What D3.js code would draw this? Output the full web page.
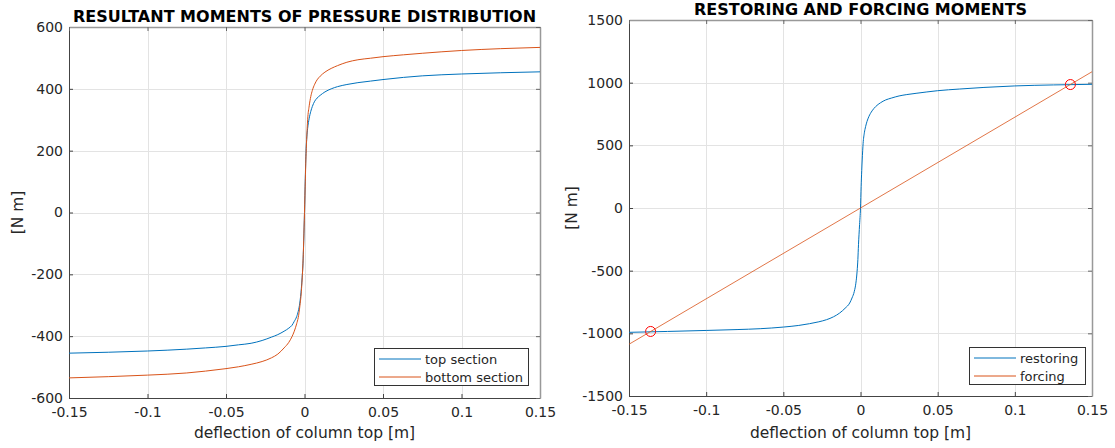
<!DOCTYPE html>
<html>
<head>
<meta charset="utf-8">
<title>Moments</title>
<script src="https://d3js.org/d3.v7.min.js"></script>
<style>
  body { margin: 0; background: #fff; }
  svg text { font-family: "DejaVu Sans", sans-serif; fill: #262626; }
  .grid line { stroke: #e3e3e3; stroke-width: 1; }
  .title { font-weight: bold; fill: #000; font-size: 16px; }
</style>
</head>
<body>
<svg id="chart" width="1115" height="448"></svg>
<script>
// ---- left plot data ----
var topX = [-0.15, -0.125, -0.1, -0.075, -0.063, -0.05, -0.042, -0.034, -0.027, -0.021, -0.017, -0.013, -0.01,
            -0.008, -0.0065, -0.005, -0.004, -0.003, -0.002, -0.0015, -0.001, -0.0005, 0,
            0.0005, 0.001, 0.0015, 0.002, 0.003, 0.004, 0.005, 0.0065, 0.008, 0.01, 0.013, 0.017,
            0.021, 0.027, 0.034, 0.042, 0.05, 0.063, 0.075, 0.1, 0.125, 0.15];
var topSection = [-455, -452, -448, -442, -438, -433, -428, -423, -414, -403, -395, -384, -374,
                  -365, -352, -337, -320, -293, -245, -210, -170, -95, 0,
                  110, 200, 245, 272, 305, 327, 343, 360, 370, 379, 390, 400,
                  407, 414, 420, 425, 430, 437, 442, 448, 452, 455];
var bottomX = topX;
var bottomSection = [-535, -531, -526, -519, -513, -505, -499, -491, -482, -470, -458, -438, -420,
                     -402, -384, -360, -340, -305, -255, -215, -165, -90, 0,
                     100, 190, 250, 300, 345, 375, 395, 415, 429, 441, 454, 466,
                     475, 486, 494, 499, 504, 510, 515, 524, 530, 534];
var leftYTicks = [-600, -400, -200, 0, 200, 400, 600];

// ---- right plot data ----
var restoringX = [-0.15, -0.125, -0.1, -0.08, -0.065, -0.05, -0.04, -0.033, -0.027, -0.022, -0.0175, -0.0135,
                  -0.01, -0.007, -0.0055, -0.004, -0.003, -0.0022, -0.0017, -0.0013, -0.0006, 0,
                  0.0004, 0.0008, 0.0011, 0.0017, 0.0025, 0.0033, 0.0042, 0.0054, 0.0075, 0.0098, 0.013,
                  0.0163, 0.02, 0.025, 0.03, 0.036, 0.043, 0.05, 0.064, 0.08, 0.1, 0.125, 0.15];
var restoring = [-992, -985, -977, -970, -963, -950, -937, -923, -908, -891, -868, -838,
                 -800, -758, -718, -665, -600, -505, -410, -293, -133, 0,
                 170, 300, 383, 516, 600, 649, 690, 729, 775, 809, 840,
                 862, 877, 894, 905, 915, 926, 936, 949, 962, 974, 982, 987];
var forcingX = [-0.15, 0.15];
var forcing = [-1087, 1087];
var crossX = [-0.136, 0.136];
var crossY = [-985, 985];
var rightYTicks = [-1500, -1000, -500, 0, 500, 1000, 1500];

var xTicks = [-0.15, -0.1, -0.05, 0, 0.05, 0.1, 0.15];

var blue = "#0072BD", orange = "#D95319";
var svg = d3.select("#chart");

function zip(xs, ys) { return xs.map(function(x, i) { return [x, ys[i]]; }); }

function drawPanel(opt) {
  var x = d3.scaleLinear().domain([-0.15, 0.15]).range([opt.left, opt.right]);
  var y = d3.scaleLinear().domain(opt.yDomain).range([opt.bottom, opt.top]);
  var g = svg.append("g");

  // grid
  var grid = g.append("g").attr("class", "grid");
  grid.selectAll(".gx").data(xTicks).enter().append("line")
    .attr("x1", function(d) { return Math.round(x(d)) + 0.5; })
    .attr("x2", function(d) { return Math.round(x(d)) + 0.5; })
    .attr("y1", opt.top).attr("y2", opt.bottom);
  grid.selectAll(".gy").data(opt.yTicks).enter().append("line")
    .attr("y1", function(d) { return Math.round(y(d)) + 0.5; })
    .attr("y2", function(d) { return Math.round(y(d)) + 0.5; })
    .attr("x1", opt.left).attr("x2", opt.right);

  // axes
  var xAxis = g.append("g").attr("transform", "translate(0," + opt.bottom + ")")
    .call(d3.axisBottom(x).tickValues(xTicks).tickSizeInner(-4).tickSizeOuter(0).tickPadding(9)
      .tickFormat(function(d) { return String(d); }));
  var yAxis = g.append("g").attr("transform", "translate(" + opt.left + ",0)")
    .call(d3.axisLeft(y).tickValues(opt.yTicks).tickSizeInner(-4).tickSizeOuter(0).tickPadding(6)
      .tickFormat(function(d) { return String(d); }));
  var xTop = g.append("g").attr("transform", "translate(0," + opt.top + ")")
    .call(d3.axisTop(x).tickValues(xTicks).tickSizeInner(-4).tickSizeOuter(0).tickFormat(""));
  var yRight = g.append("g").attr("transform", "translate(" + opt.right + ",0)")
    .call(d3.axisRight(y).tickValues(opt.yTicks).tickSizeInner(-4).tickSizeOuter(0).tickFormat(""));
  [xAxis, yAxis].forEach(function(a) {
    a.selectAll("path").attr("stroke", "#444");
    a.selectAll("line").attr("stroke", "#444");
    a.selectAll("text").attr("font-size", "14px").attr("fill", "#262626")
      .attr("font-family", "DejaVu Sans, sans-serif");
  });
  [xTop, yRight].forEach(function(a) {
    a.selectAll("path").attr("stroke", "#999").attr("stroke-width", 1.5);
    a.selectAll("line").attr("stroke", "#666");
  });

  // data lines
  var line = d3.line().x(function(d) { return x(d[0]); }).y(function(d) { return y(d[1]); })
    .curve(d3.curveMonotoneX);
  opt.series.forEach(function(s) {
    g.append("path").datum(zip(s.x, s.y))
      .attr("fill", "none").attr("stroke", s.color).attr("stroke-width", s.width || 1)
      .attr("d", line);
  });
  if (opt.markers) {
    g.selectAll(".mk").data(zip(opt.markers.x, opt.markers.y)).enter().append("circle")
      .attr("cx", function(d) { return x(d[0]); })
      .attr("cy", function(d) { return y(d[1]); })
      .attr("r", 5).attr("fill", "none").attr("stroke", "#ff0000").attr("stroke-width", 1);
  }

  // title and labels
  g.append("text").attr("class", "title").attr("x", (opt.left + opt.right) / 2).attr("y", opt.titleY)
    .attr("text-anchor", "middle").text(opt.title);
  g.append("text").attr("x", (opt.left + opt.right) / 2).attr("y", 438)
    .attr("text-anchor", "middle").attr("font-size", "15.5px").text("deflection of column top [m]");
  g.append("text").attr("transform", "translate(" + opt.ylabelX + "," + (opt.top + opt.bottom) / 2 + ") rotate(-90)")
    .attr("text-anchor", "middle").attr("font-size", "15.5px").text("[N m]");

  // legend
  var L = opt.legend;
  var lg = g.append("g");
  lg.append("rect").attr("x", L.x + 0.5).attr("y", L.y + 0.5).attr("width", L.w).attr("height", L.h)
    .attr("fill", "#fff").attr("stroke", "#333").attr("stroke-width", 1);
  opt.series.forEach(function(s, i) {
    var yy = L.y + 11 + i * 18;
    lg.append("line").attr("x1", L.x + 5).attr("x2", L.x + 47).attr("y1", yy).attr("y2", yy)
      .attr("stroke", s.color).attr("stroke-width", 1);
    lg.append("text").attr("x", L.x + 51).attr("y", yy + 4.5).attr("font-size", "13px").text(s.name);
  });
}

drawPanel({
  left: 69, right: 540, top: 27, bottom: 398,
  yDomain: [-600, 600], yTicks: leftYTicks,
  title: "RESULTANT MOMENTS OF PRESSURE DISTRIBUTION", titleY: 22, ylabelX: 23,
  series: [
    { name: "top section", x: topX, y: topSection, color: blue },
    { name: "bottom section", x: bottomX, y: bottomSection, color: orange }
  ],
  legend: { x: 374, y: 348, w: 154, h: 37 }
});

drawPanel({
  left: 629, right: 1092, top: 20, bottom: 396,
  yDomain: [-1500, 1500], yTicks: rightYTicks,
  title: "RESTORING AND FORCING MOMENTS", titleY: 15, ylabelX: 577,
  series: [
    { name: "restoring", x: restoringX, y: restoring, color: blue },
    { name: "forcing", x: forcingX, y: forcing, color: orange, width: 0.8 }
  ],
  markers: { x: crossX, y: crossY },
  legend: { x: 969, y: 347, w: 116, h: 37 }
});
</script>
</body>
</html>
